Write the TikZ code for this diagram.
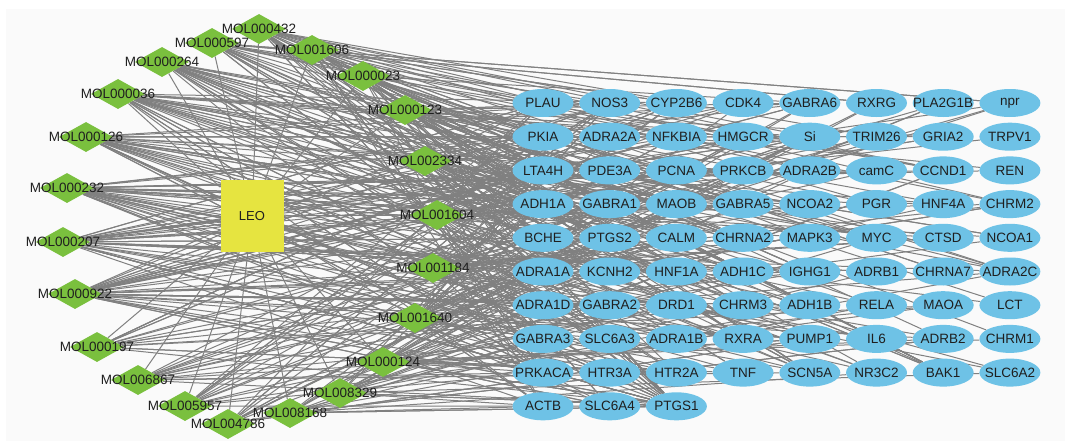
\documentclass[tikz,border=0pt]{standalone}
\usepackage{fontspec}
\setmainfont{Liberation Sans}
\usetikzlibrary{shapes.geometric}
\definecolor{targetblue}{RGB}{110,194,230}
\definecolor{molgreen}{RGB}{122,192,62}
\definecolor{herbyellow}{RGB}{230,228,64}
\definecolor{linkgray}{RGB}{128,128,128}
\definecolor{canvas}{RGB}{250,250,250}
\pgfdeclarelayer{bg}
\pgfdeclarelayer{links}
\pgfsetlayers{bg,links,main}
\tikzset{
  target/.style={ellipse, fill=targetblue, minimum width=61pt, minimum height=28pt, inner sep=0pt},
  mol/.style={diamond, fill=molgreen, minimum width=54pt, minimum height=30pt, inner sep=0pt},
  herb/.style={rectangle, fill=herbyellow, minimum width=63pt, minimum height=72pt,
               font=\fontsize{13}{15}\selectfont, text=black!88},
  tag/.style={font=\fontsize{13.5}{15}\selectfont, text=black!88, inner sep=0pt},
  link/.style={draw=linkgray, line width=1pt}
}
\begin{document}
\begin{tikzpicture}[x=1pt, y=-1pt]
\useasboundingbox (0,0) rectangle (1071,447);
\begin{pgfonlayer}{bg}
  \fill[canvas] (6,9) rectangle (1065,441);
\end{pgfonlayer}

% target grid
\foreach \row [count=\r] in {
  {PLAU,NOS3,CYP2B6,CDK4,GABRA6,RXRG,PLA2G1B,npr},
  {PKIA,ADRA2A,NFKBIA,HMGCR,Si,TRIM26,GRIA2,TRPV1},
  {LTA4H,PDE3A,PCNA,PRKCB,ADRA2B,camC,CCND1,REN},
  {ADH1A,GABRA1,MAOB,GABRA5,NCOA2,PGR,HNF4A,CHRM2},
  {BCHE,PTGS2,CALM,CHRNA2,MAPK3,MYC,CTSD,NCOA1},
  {ADRA1A,KCNH2,HNF1A,ADH1C,IGHG1,ADRB1,CHRNA7,ADRA2C},
  {ADRA1D,GABRA2,DRD1,CHRM3,ADH1B,RELA,MAOA,LCT},
  {GABRA3,SLC6A3,ADRA1B,RXRA,PUMP1,IL6,ADRB2,CHRM1},
  {PRKACA,HTR3A,HTR2A,TNF,SCN5A,NR3C2,BAK1,SLC6A2},
  {ACTB,SLC6A4,PTGS1}}
  \foreach \g [count=\c] in \row {
    \pgfmathtruncatemacro\idx{(\r-1)*8+\c}
    \node[target, label={[tag]center:\g}] (t\idx)
      at ({543+66.7*(\c-1)},{103+33.7*(\r-1)}) {};
  }

% compounds
\foreach \i/\px/\py/\lbl in {
  1/259/29/MOL000432, 2/212/43/MOL000597, 3/162/62/MOL000264,
  4/118/94/MOL000036, 5/86/137/MOL000126, 6/67/188/MOL000232,
  7/63/242/MOL000207, 8/75/294/MOL000922, 9/97/347/MOL000197,
  10/138/380/MOL006867, 11/185/406/MOL005957, 12/228/424/MOL004786,
  13/290/413/MOL008168, 14/340/393/MOL008329, 15/383/362/MOL000124,
  16/415/318/MOL001640, 17/433/268/MOL001184, 18/437/215/MOL001604,
  19/425/161/MOL002334, 20/405/110/MOL000123, 21/363/76/MOL000023,
  22/312/50/MOL001606}
  \node[mol, label={[tag]center:\lbl}] (m\i) at (\px,\py) {};

% herb
\node[herb] (leo) at (252,216) {LEO};

% links (targets partly skewed to the left columns)
\begin{pgfonlayer}{links}
  \foreach \i in {1,...,22}
    \draw[link] (leo) -- (m\i);
  \pgfmathsetseed{2024}
  \foreach \i/\n in {1/22, 2/22, 3/24, 4/28, 5/30, 6/32, 7/34, 8/34, 9/16, 10/14, 11/14,
                     12/14, 13/14, 14/16, 15/18, 16/20, 17/22, 18/22, 19/22, 20/24, 21/24, 22/24}
    \foreach \k in {1,...,\n} {
      \pgfmathrandominteger{\rr}{1}{10}
      \pgfmathrandominteger{\ca}{1}{8}
      \pgfmathrandominteger{\cb}{1}{8}
      \pgfmathtruncatemacro\cc{isodd(\k) ? \ca : min(\ca,\cb)}
      \pgfmathtruncatemacro\tgt{(\rr-1)*8 + (\rr==10 ? min(\cc,3) : \cc)}
      \draw[link] (m\i) -- (t\tgt);
    }
\end{pgfonlayer}
\end{tikzpicture}
\end{document}
